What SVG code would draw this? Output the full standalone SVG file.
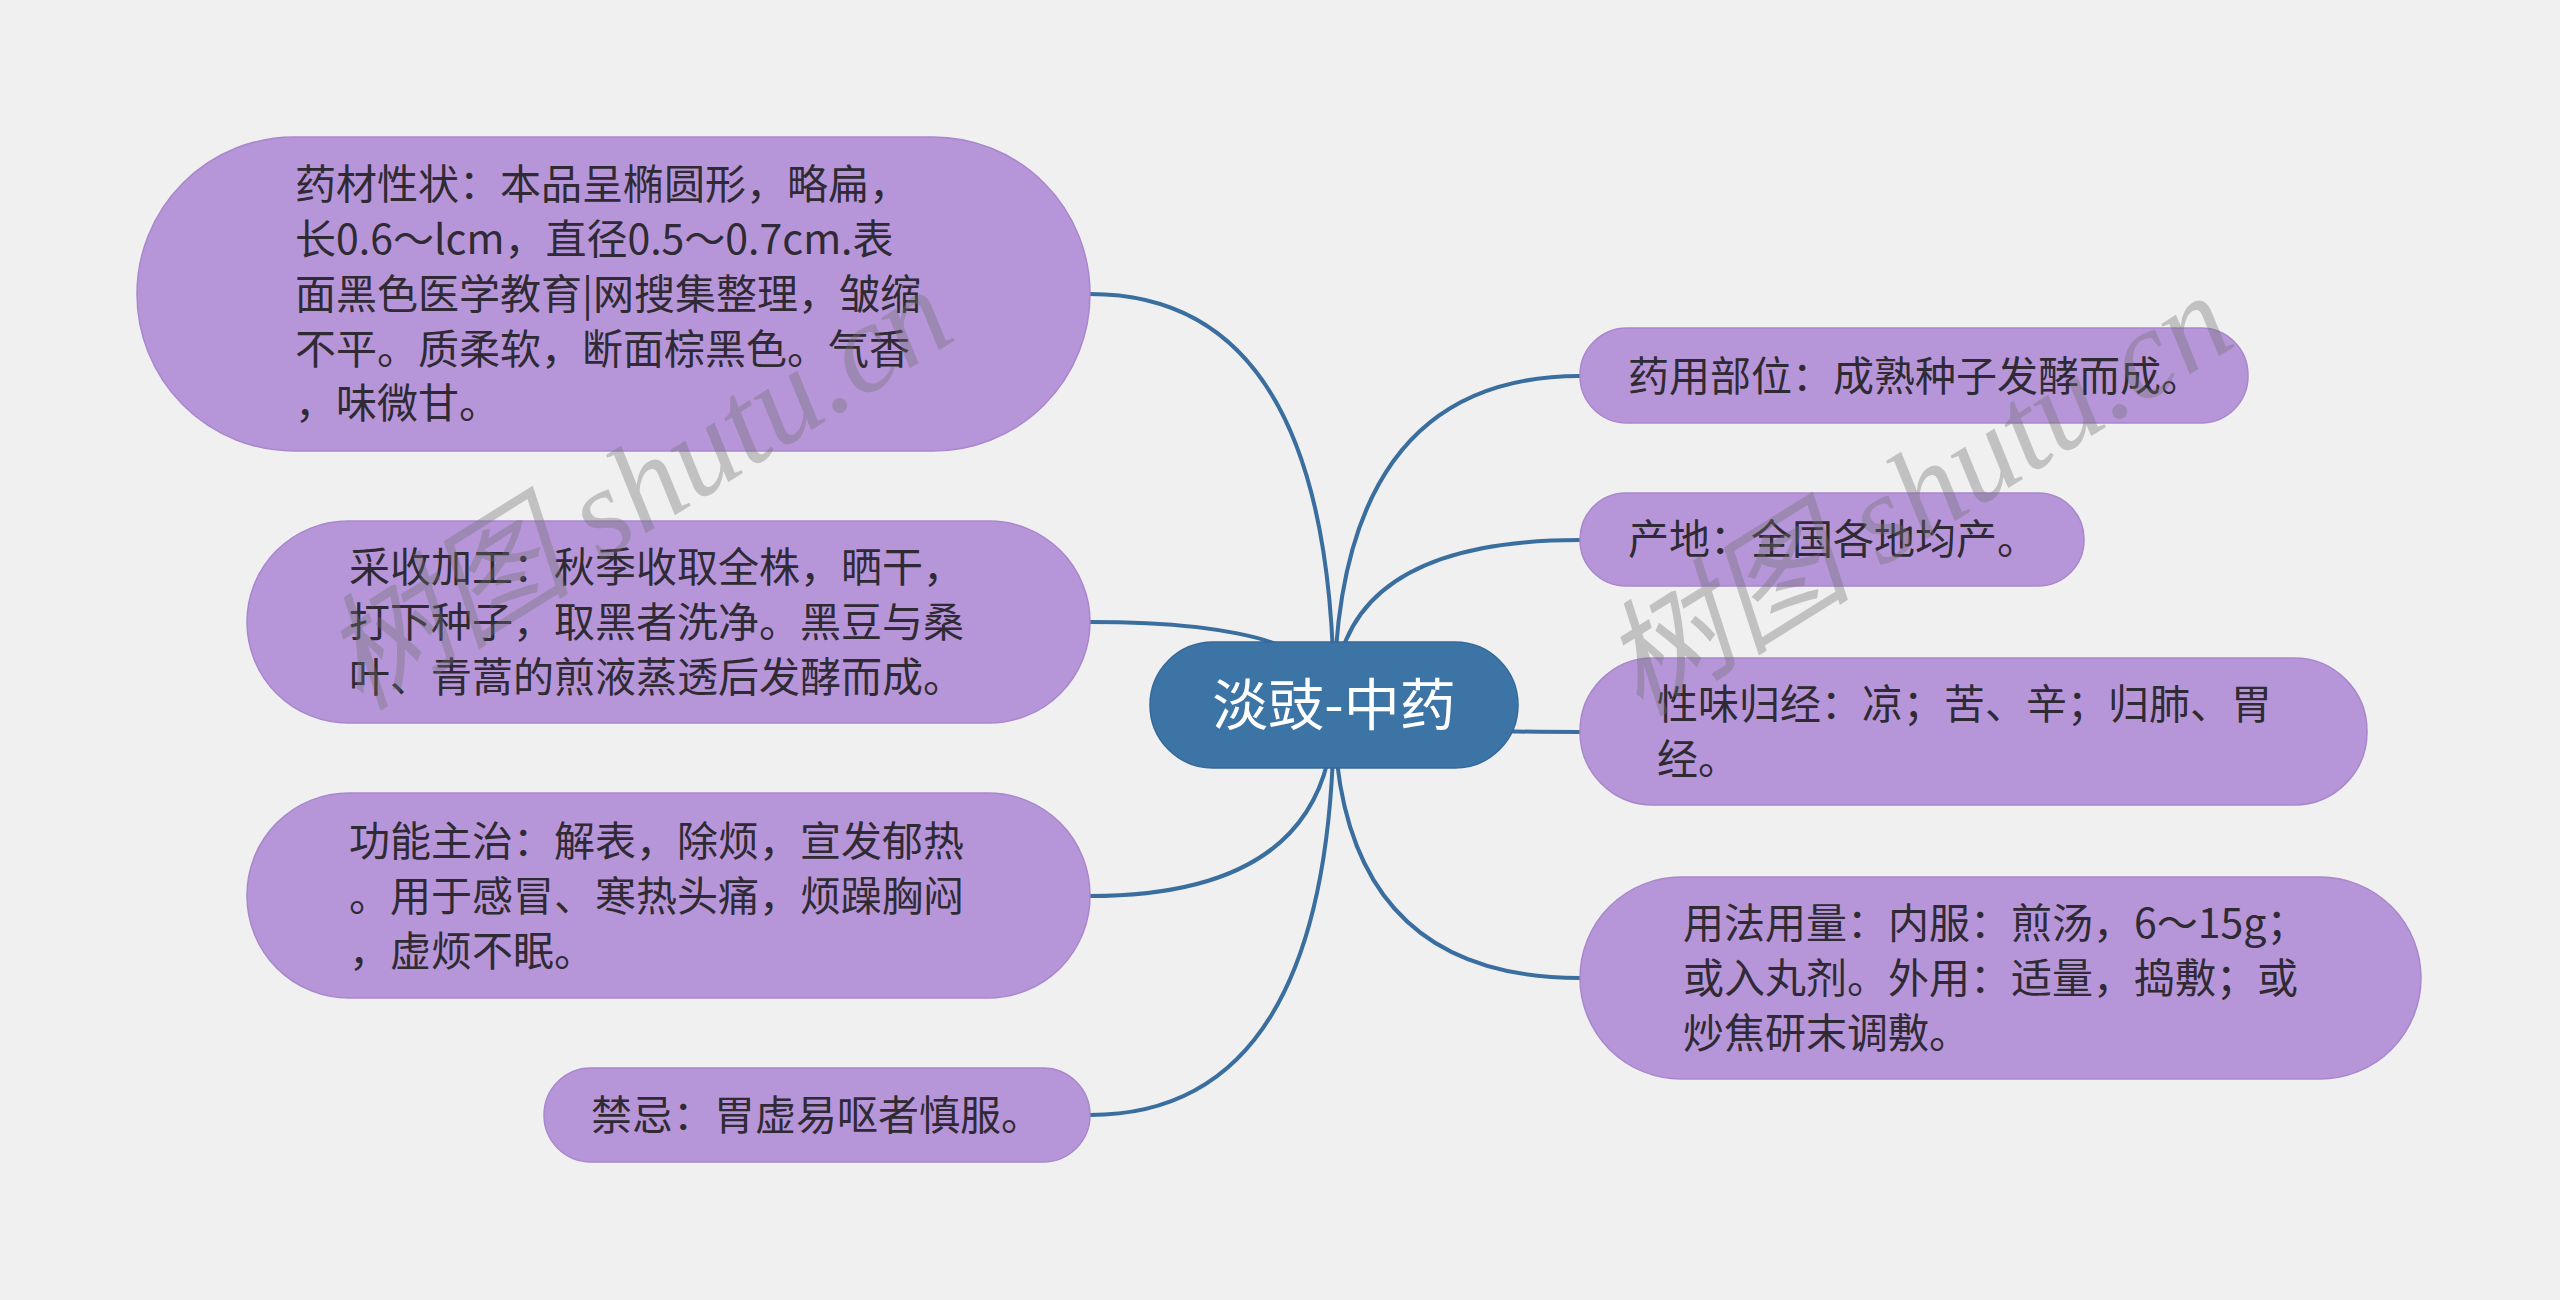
<svg xmlns="http://www.w3.org/2000/svg" width="2560" height="1300" viewBox="0 0 2560 1300">
<style>
.bg{fill:#f0f0f0}
.conn path{fill:none;stroke:#3a6e9f;stroke-width:4;stroke-linecap:round}
.leaf{fill:#b696d8;stroke:#a887cd;stroke-width:1.5}
.root{fill:#3d74a6;stroke:#35689a;stroke-width:1.5}
.t{font-family:"Noto Sans CJK SC","Noto Sans",sans-serif;font-size:41px;fill:#2f2a33}
.rt{font-family:"Noto Sans CJK SC","Noto Sans",sans-serif;font-size:56px;fill:#ffffff;text-anchor:middle}
.wm{font-family:"Liberation Serif","Noto Sans CJK SC",serif;font-style:italic;font-size:126px;fill:#6e6e6e;fill-opacity:0.36}
</style>
<rect class="bg" x="0" y="0" width="2560" height="1300"/>
<g id="connectors" class="conn">
<path d="M1334 705 Q1334 294 1090 294"/>
<path d="M1334 705 Q1334 622 1090 622"/>
<path d="M1334 705 Q1334 896 1090 896"/>
<path d="M1334 705 Q1334 1115 1090 1115"/>
<path d="M1334 705 Q1334 376 1580 376"/>
<path d="M1334 705 Q1334 540 1580 540"/>
<path d="M1334 705 Q1334 732 1580 732"/>
<path d="M1334 705 Q1334 978 1580 978"/>
</g>
<g id="root">
<rect class="root" x="1150" y="642" width="368" height="126" rx="63"/>
<text class="rt" x="1334" y="725">淡豉-中药</text>
</g>
<g id="node-xingzhuang">
<rect class="leaf" x="137" y="137" width="953" height="314" rx="157"/>
<text class="t"><tspan x="295" y="199">药材性状：本品呈椭圆形，略扁，</tspan><tspan x="295" y="254">长0.6～lcm，直径0.5～0.7cm.表</tspan><tspan x="295" y="308.5">面黑色医学教育|网搜集整理，皱缩</tspan><tspan x="295" y="363.5">不平。质柔软，断面棕黑色。气香</tspan><tspan x="295" y="418">，味微甘。</tspan></text>
</g>
<g id="node-caishou">
<rect class="leaf" x="247" y="521" width="843" height="202" rx="101"/>
<text class="t"><tspan x="349" y="581.5">采收加工：秋季收取全株，晒干，</tspan><tspan x="349" y="636.5">打下种子，取黑者洗净。黑豆与桑</tspan><tspan x="349" y="691.5">叶、青蒿的煎液蒸透后发酵而成。</tspan></text>
</g>
<g id="node-gongneng">
<rect class="leaf" x="247" y="793" width="843" height="205" rx="102"/>
<text class="t"><tspan x="349" y="855.5">功能主治：解表，除烦，宣发郁热</tspan><tspan x="349" y="910.5">。用于感冒、寒热头痛，烦躁胸闷</tspan><tspan x="349" y="965.5">，虚烦不眠。</tspan></text>
</g>
<g id="node-jinji">
<rect class="leaf" x="544" y="1068" width="546" height="94" rx="47"/>
<text class="t" x="591" y="1129.5">禁忌：胃虚易呕者慎服。</text>
</g>
<g id="node-buwei">
<rect class="leaf" x="1580" y="328" width="668" height="95" rx="47"/>
<text class="t" x="1628" y="390.5">药用部位：成熟种子发酵而成。</text>
</g>
<g id="node-chandi">
<rect class="leaf" x="1580" y="493" width="504" height="93" rx="46"/>
<text class="t" x="1628" y="554">产地：全国各地均产。</text>
</g>
<g id="node-xingwei">
<rect class="leaf" x="1580" y="658" width="787" height="147" rx="73"/>
<text class="t"><tspan x="1657" y="718.5">性味归经：凉；苦、辛；归肺、胃</tspan><tspan x="1657" y="773.5">经。</tspan></text>
</g>
<g id="node-yongfa">
<rect class="leaf" x="1580" y="877" width="841" height="202" rx="101"/>
<text class="t"><tspan x="1683" y="938">用法用量：内服：煎汤，6～15g；</tspan><tspan x="1683" y="993">或入丸剂。外用：适量，捣敷；或</tspan><tspan x="1683" y="1048">炒焦研末调敷。</tspan></text>
</g>
<g id="watermarks">
<text class="wm" transform="translate(360 712) rotate(-32)">树图 shutu.cn</text>
<text class="wm" transform="translate(1640 718) rotate(-32)">树图 shutu.cn</text>
</g>
</svg>
